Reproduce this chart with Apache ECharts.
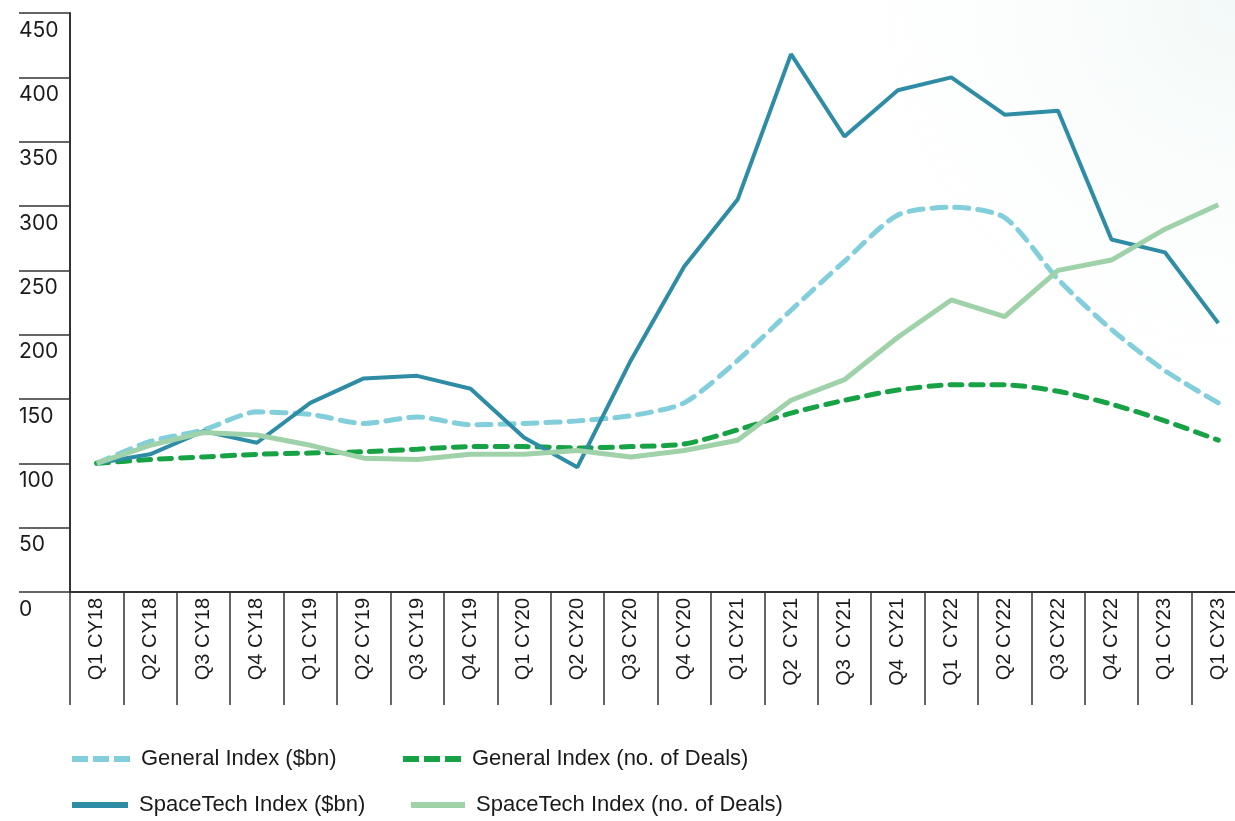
<!DOCTYPE html>
<html>
<head>
<meta charset="utf-8">
<script src="https://cdn.jsdelivr.net/npm/echarts@6/dist/echarts.min.js"></script>
<style>
  html, body { margin: 0; padding: 0; background: #fff; }
  #chart { width: 1235px; height: 821px; }
</style>
</head>
<body>
<div id="chart"></div>
<script>
// quarters (the last label is repeated in the source chart)
const quarters = ['Q1 CY18', 'Q2 CY18', 'Q3 CY18', 'Q4 CY18', 'Q1 CY19', 'Q2 CY19', 'Q3 CY19', 'Q4 CY19',
  'Q1 CY20', 'Q2 CY20', 'Q3 CY20', 'Q4 CY20', 'Q1 CY21', 'Q2  CY21', 'Q3  CY21', 'Q4  CY21',
  'Q1  CY22', 'Q2 CY22', 'Q3 CY22', 'Q4 CY22', 'Q1 CY23', 'Q1 CY23']

const generalBn = [100, 117, 126, 140, 138, 131, 136, 130, 131, 133, 137, 147, 180, 219, 257, 293, 299, 291, 243, 204, 172, 147]
const generalDeals = [100, 103, 105, 107, 108, 109, 111, 113, 113, 112, 113, 115, 126, 139, 149, 157, 161, 161, 156, 146, 133, 118]
const spaceBn = [100, 107, 125, 116, 147, 166, 168, 158, 120, 97, 180, 253, 305, 418, 354, 390, 400, 371, 374, 274, 264, 209]
const spaceDeals = [100, 114, 124, 122, 114, 104, 103, 107, 107, 110, 105, 110, 118, 149, 165, 198, 227, 214, 250, 258, 282, 301]

const yTicks = [0, 50, 100, 150, 200, 250, 300, 350, 400, 450]

const chart = echarts.init(document.getElementById('chart'))

// legend icons: three dashes or one solid bar
const dashIcon = 'path://M0,0H16V6H0Z M21,0H37V6H21Z M42,0H58V6H42Z'
const solidIcon = 'path://M0,0H56V6H0Z'

const legendBase = {
  orient: 'horizontal',
  itemWidth: 58,
  itemHeight: 6,
  textStyle: {
    fontFamily: 'Liberation Sans, Arial, sans-serif',
    fontSize: 22,
    color: '#1a1a1a',
    padding: [0, 0, 0, 6]
  }
}

const option = {
  backgroundColor: '#ffffff',
  animation: false,
  graphic: [{
    type: 'rect',
    z: -10,
    shape: { x: 760, y: 0, width: 475, height: 540 },
    style: {
      fill: new echarts.graphic.RadialGradient(1, 0, 1, [
        { offset: 0, color: 'rgba(232,244,242,0.55)' },
        { offset: 1, color: 'rgba(255,255,255,0)' }
      ])
    }
  }],
  legend: [
    { ...legendBase, left: 67, top: 743, icon: dashIcon, data: ['General Index ($bn)'] },
    { ...legendBase, left: 398, top: 743, icon: dashIcon, data: ['General Index (no. of Deals)'] },
    { ...legendBase, left: 67, top: 789, itemWidth: 56, icon: solidIcon, data: ['SpaceTech Index ($bn)'] },
    { ...legendBase, left: 406, top: 789, itemWidth: 54, icon: solidIcon, data: ['SpaceTech Index (no. of Deals)'] }
  ],
  grid: {
    left: 70,
    top: 13,
    width: 1175,
    height: 579,
    containLabel: false,
    outerBoundsMode: 'none'
  },
  xAxis: {
    type: 'category',
    data: quarters,
    boundaryGap: true,
    axisLine: { lineStyle: { color: '#333', width: 2 } },
    axisTick: {
      show: true,
      interval: 0,
      length: 113,
      lineStyle: { color: '#333', width: 1.5 }
    },
    axisLabel: {
      interval: 0,
      rotate: 90,
      margin: 6,
      fontFamily: 'Liberation Sans, Arial, sans-serif',
      fontSize: 20,
      color: '#1a1a1a'
    }
  },
  yAxis: {
    type: 'value',
    min: yTicks[0],
    max: yTicks[yTicks.length - 1],
    interval: 50,
    splitLine: { show: false },
    axisLine: { show: true, lineStyle: { color: '#333', width: 2 } },
    axisTick: {
      show: true,
      length: 51,
      lineStyle: { color: '#333', width: 1.5 }
    },
    axisLabel: {
      align: 'left',
      verticalAlign: 'top',
      margin: 51,
      padding: [7, 0, 0, 0],
      fontFamily: 'Inter, Lato, sans-serif',
      fontSize: 21,
      color: '#1a1a1a'
    }
  },
  series: [
    {
      name: 'General Index ($bn)',
      type: 'line',
      data: generalBn,
      symbol: 'none',
      smooth: 0.25,
      z: 2,
      color: '#82CFDB',
      lineStyle: { color: '#82CFDB', width: 5, type: [14, 9], cap: 'round' }
    },
    {
      name: 'General Index (no. of Deals)',
      type: 'line',
      data: generalDeals,
      symbol: 'none',
      smooth: 0.25,
      z: 3,
      color: '#17A345',
      lineStyle: { color: '#17A345', width: 5, type: [12, 9], cap: 'round' }
    },
    {
      name: 'SpaceTech Index ($bn)',
      type: 'line',
      data: spaceBn,
      symbol: 'none',
      z: 4,
      color: '#2E8CA5',
      lineStyle: { color: '#2E8CA5', width: 4 }
    },
    {
      name: 'SpaceTech Index (no. of Deals)',
      type: 'line',
      data: spaceDeals,
      symbol: 'none',
      z: 5,
      color: '#9FD2A8',
      lineStyle: { color: '#9FD2A8', width: 5 }
    }
  ]
}

chart.setOption(option)
</script>
</body>
</html>
